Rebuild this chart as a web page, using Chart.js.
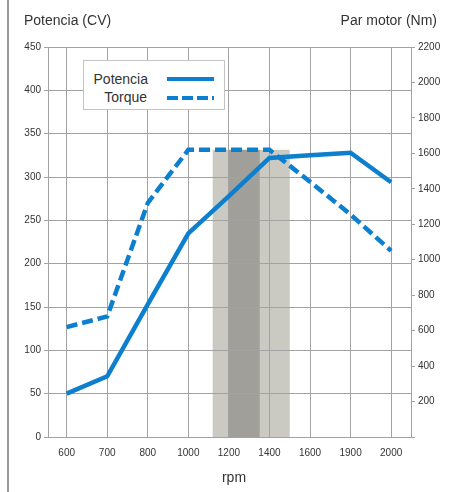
<!DOCTYPE html>
<html>
<head>
<meta charset="utf-8">
<script src="https://cdn.jsdelivr.net/npm/chart.js@4"></script>
<style>
  html, body { margin: 0; padding: 0; background: #fff; }
  #wrap { position: relative; width: 450px; height: 492px; font-family: "Liberation Sans", Arial, Helvetica, sans-serif; color: #333; }
  #c { position: absolute; left: 0; top: 0; }
  .t { position: absolute; font-size: 14px; line-height: 16px; white-space: nowrap; }
  #frame { position: absolute; left: 7px; top: 0; width: 2px; height: 492px; background: #9a9a9a; }
  #legend { position: absolute; left: 83px; top: 60px; width: 142px; height: 50px; box-sizing: border-box; border: 1px solid #c4c4c4; background: #fff; }
</style>
</head>
<body>
<div id="wrap">
  <div id="frame"></div>
  <canvas id="c" width="450" height="492"></canvas>
  <div class="t" style="left:24px; top:12px;">Potencia (CV)</div>
  <div class="t" style="right:13px; top:12px;">Par motor (Nm)</div>
  <div class="t" style="left:184px; width:100px; text-align:center; top:469px;">rpm</div>
  <div id="legend"></div>
  <div class="t" style="left:83px; width:65px; text-align:right; top:71px;">Potencia</div>
  <div class="t" style="left:83px; width:64px; text-align:right; top:89px;">Torque</div>
  <div style="position:absolute; left:167px; top:77px; width:47px; height:4px; background:#0c7fcf;"></div>
  <div style="position:absolute; left:167px; top:96px; width:47px; height:4px; background:repeating-linear-gradient(to right, #0c7fcf 0 11px, transparent 11px 15px);"></div>
</div>
<script>
const xLabels = ['600', '700', '800', '1000', '1200', '1400', '1600', '1900', '2000'];
const potencia = [50, 70, 153, 235, 278, 322, 325, 328, 294];
const torque = [620, 680, 1320, 1620, 1620, 1620, 1440, 1255, 1050];
const leftTicks = { min: 0, max: 450, step: 50 };
const rightTicks = { min: 0, max: 2200, step: 200 };
const bandLight = [3.6, 5.5];
const bandDark = [4.0, 4.76];
const bandTop = 1620;

const blue = '#0c7fcf';
const gridColor = '#a2a2a2';

const bandsPlugin = {
  id: 'bands',
  beforeDraw(chart) {
    const { ctx, chartArea, scales } = chart;
    const x = scales.x, y1 = scales.y1;
    const top = y1.getPixelForValue(bandTop);
    ctx.save();
    ctx.fillStyle = '#cacac2';
    let a = x.getPixelForValue(bandLight[0]), b = x.getPixelForValue(bandLight[1]);
    ctx.fillRect(a, top, b - a, chartArea.bottom - top);
    ctx.fillStyle = '#a09f99';
    a = x.getPixelForValue(bandDark[0]); b = x.getPixelForValue(bandDark[1]);
    ctx.fillRect(a, top, b - a, chartArea.bottom - top);
    ctx.restore();
  }
};

new Chart(document.getElementById('c'), {
  type: 'line',
  data: {
    datasets: [
      {
        label: 'Potencia',
        data: potencia.map((v, i) => ({ x: i, y: v })),
        yAxisID: 'y',
        borderColor: blue,
        borderWidth: 4.5,
        pointRadius: 0,
        tension: 0,
        fill: false
      },
      {
        label: 'Torque',
        data: torque.map((v, i) => ({ x: i, y: v })),
        yAxisID: 'y1',
        borderColor: blue,
        borderWidth: 4.5,
        borderDash: [11, 5],
        pointRadius: 0,
        tension: 0,
        fill: false
      }
    ]
  },
  options: {
    responsive: false,
    devicePixelRatio: 1,
    animation: false,
    layout: { padding: { top: 47, left: 0, right: 0, bottom: 0 } },
    plugins: { legend: { display: false }, tooltip: { enabled: false } },
    scales: {
      x: {
        type: 'linear',
        min: -0.46,
        max: 8.49,
        afterBuildTicks: s => { s.ticks = xLabels.map((_, i) => ({ value: i })); },
        afterFit: s => { s.height = 55; },
        ticks: {
          callback: v => xLabels[v] ?? '',
          font: { family: '"Liberation Sans", Arial, sans-serif', size: 10 },
          color: '#333',
          padding: 10,
          maxRotation: 0,
          autoSkip: false
        },
        grid: { color: gridColor, drawTicks: false, lineWidth: 1 },
        border: { color: gridColor, width: 1 }
      },
      y: {
        position: 'left',
        min: leftTicks.min,
        max: leftTicks.max,
        afterFit: s => { s.width = 48; },
        ticks: {
          stepSize: leftTicks.step,
          font: { family: '"Liberation Sans", Arial, sans-serif', size: 10 },
          color: '#333',
          padding: 3
        },
        grid: { color: gridColor, tickLength: 4, lineWidth: 1 },
        border: { color: gridColor, width: 1 }
      },
      y1: {
        position: 'right',
        min: rightTicks.min,
        max: rightTicks.max,
        afterFit: s => { s.width = 39; },
        ticks: {
          stepSize: rightTicks.step,
          callback: v => (v === 0 ? '' : v),
          font: { family: '"Liberation Sans", Arial, sans-serif', size: 10 },
          color: '#333',
          padding: 3
        },
        grid: { drawOnChartArea: false, color: gridColor, tickLength: 4 },
        border: { color: gridColor, width: 1 }
      }
    }
  },
  plugins: [bandsPlugin]
});
</script>
</body>
</html>
